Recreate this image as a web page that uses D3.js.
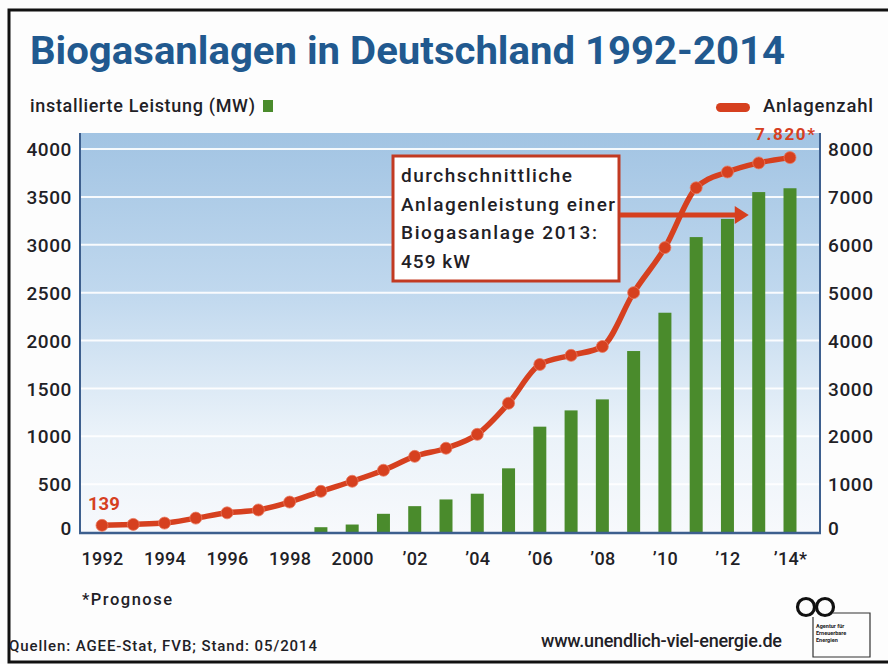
<!DOCTYPE html>
<html>
<head>
<meta charset="utf-8">
<script src="https://cdn.jsdelivr.net/npm/d3@7"></script>
<style>
  html, body { margin: 0; padding: 0; background: #fdfdfd; }
  svg { display: block; font-family: Roboto, "Noto Sans", sans-serif; }
</style>
</head>
<body>
<div id="chart"></div>
<script>
// ── Data ─────────────────────────────────────────────────────────────────────
const years      = [1992, 1993, 1994, 1995, 1996, 1997, 1998, 1999, 2000, 2001, 2002,
                    2003, 2004, 2005, 2006, 2007, 2008, 2009, 2010, 2011, 2012, 2013, 2014];
// installierte Leistung (MW), bars on left axis
const capacityMW = [null, null, null, null, null, null, null, 50, 78, 190, 270,
                    340, 400, 665, 1100, 1270, 1385, 1890, 2290, 3080, 3270, 3550, 3590];
// Anlagenzahl, line on right axis
const plantCount = [139, 159, 186, 290, 400, 460, 625, 850, 1060, 1290, 1580,
                    1750, 2040, 2690, 3500, 3690, 3875, 5000, 5940, 7190, 7520, 7710, 7820];

const xTickYears  = [1992, 1994, 1996, 1998, 2000, 2002, 2004, 2006, 2008, 2010, 2012, 2014];
const xTickLabels = ['1992', '1994', '1996', '1998', '2000', '’02', '’04', '’06', '’08', '’10', '’12', '’14*'];
const leftTicks   = [0, 500, 1000, 1500, 2000, 2500, 3000, 3500, 4000];
const rightTicks  = [0, 1000, 2000, 3000, 4000, 5000, 6000, 7000, 8000];

const noteLines  = ['durchschnittliche', 'Anlagenleistung einer', 'Biogasanlage 2013:', '459 kW'];
const noteWidths = [171, 214, 196, 69];

// ── Layout ───────────────────────────────────────────────────────────────────
const W = 888, H = 664;
const P = { left: 80, right: 820, top: 133, bottom: 532 };

const BLUE  = '#21598f';
const RED   = '#d6401f';
const GREEN = '#4a8b2c';
const AXIS  = '#3d5f8e';
const INK   = '#1f2126';

const svg = d3.select('#chart').append('svg').attr('width', W).attr('height', H);

const x  = d3.scalePoint().domain(years).range([102, 790]);
const yL = d3.scaleLinear().domain([0, 4000]).range([P.bottom, 149]);
const yR = d3.scaleLinear().domain([0, 8000]).range([P.bottom, 149]);

// stretch a text to a measured width by letter spacing only
const fit = (sel, w) => sel.attr('textLength', w).attr('lengthAdjust', 'spacing');

// ── Frame ────────────────────────────────────────────────────────────────────
svg.append('path')
  .attr('d', `M${W + 5},10 H9 V662 H${W + 5}`)
  .attr('fill', 'none').attr('stroke', '#111').attr('stroke-width', 3);

// ── Title & legend ───────────────────────────────────────────────────────────
svg.append('text')
  .attr('x', 30).attr('y', 64)
  .attr('fill', BLUE).attr('font-size', 38).attr('font-weight', 700)
  .attr('textLength', 755).attr('lengthAdjust', 'spacingAndGlyphs')
  .text('Biogasanlagen in Deutschland 1992-2014');

svg.append('text')
  .attr('x', 30).attr('y', 112)
  .attr('fill', INK).attr('font-size', 18).attr('font-weight', 500)
  .call(fit, 225)
  .text('installierte Leistung (MW)');
svg.append('rect')
  .attr('x', 263).attr('y', 100).attr('width', 10).attr('height', 12)
  .attr('fill', GREEN);

svg.append('rect')
  .attr('x', 716).attr('y', 103).attr('width', 34).attr('height', 9).attr('rx', 4.5)
  .attr('fill', RED);
svg.append('text')
  .attr('x', 763).attr('y', 112)
  .attr('fill', INK).attr('font-size', 18.5).attr('font-weight', 500)
  .call(fit, 110)
  .text('Anlagenzahl');

// ── Plot background (gradient) ───────────────────────────────────────────────
const defs = svg.append('defs');
const grad = defs.append('linearGradient')
  .attr('id', 'bg').attr('x1', 0).attr('y1', 0).attr('x2', 0).attr('y2', 1);
grad.append('stop').attr('offset', '0%').attr('stop-color', '#a2c4e3');
grad.append('stop').attr('offset', '40%').attr('stop-color', '#c0d8ee');
grad.append('stop').attr('offset', '75%').attr('stop-color', '#eaf2f9');
grad.append('stop').attr('offset', '100%').attr('stop-color', '#f7f9fc');

svg.append('rect')
  .attr('x', P.left).attr('y', P.top)
  .attr('width', P.right - P.left).attr('height', P.bottom - P.top)
  .attr('fill', 'url(#bg)');

// Gridlines
svg.append('g').selectAll('line')
  .data(leftTicks.filter(d => d > 0))
  .join('line')
  .attr('x1', P.left).attr('x2', P.right)
  .attr('y1', d => yL(d)).attr('y2', d => yL(d))
  .attr('stroke', '#ffffff').attr('stroke-opacity', 0.9).attr('stroke-width', 2);

// ── Bars ─────────────────────────────────────────────────────────────────────
const barW = 13;
const barData = years.map((yr, i) => ({ yr, v: capacityMW[i] })).filter(d => d.v != null);
svg.append('g').selectAll('rect')
  .data(barData)
  .join('rect')
  .attr('x', d => x(d.yr) - barW / 2)
  .attr('y', d => yL(d.v))
  .attr('width', barW)
  .attr('height', d => yL(0) - yL(d.v))
  .attr('fill', GREEN);

// ── Axes lines ───────────────────────────────────────────────────────────────
svg.append('line')
  .attr('x1', P.left).attr('x2', P.left).attr('y1', P.top).attr('y2', P.bottom + 1)
  .attr('stroke', AXIS).attr('stroke-width', 2);
svg.append('line')
  .attr('x1', P.right).attr('x2', P.right).attr('y1', P.top).attr('y2', P.bottom + 1)
  .attr('stroke', AXIS).attr('stroke-width', 2);
svg.append('line')
  .attr('x1', P.left - 1).attr('x2', P.right + 1).attr('y1', P.bottom + 1).attr('y2', P.bottom + 1)
  .attr('stroke', AXIS).attr('stroke-width', 2.5);

// ── Tick labels via d3 axes ──────────────────────────────────────────────────
const styleAxis = a => {
  a.select('.domain').remove();
  a.selectAll('line').remove();
  a.selectAll('text')
    .attr('fill', INK).attr('font-size', 19).attr('font-weight', 500)
    .attr('letter-spacing', 0.6)
    .attr('font-family', 'Roboto, "Noto Sans", sans-serif');
};

svg.append('g').attr('transform', `translate(${P.left - 8},0)`)
  .call(d3.axisLeft(yL).tickValues(leftTicks).tickSize(0).tickPadding(0).tickFormat(d3.format('d')))
  .call(styleAxis)
  .call(a => a.selectAll('text').attr('dy', '0.35em').attr('y', d => d === 0 ? -4 : 0));

svg.append('g').attr('transform', `translate(${P.right + 8},0)`)
  .call(d3.axisRight(yR).tickValues(rightTicks).tickSize(0).tickPadding(0).tickFormat(d3.format('d')))
  .call(styleAxis)
  .call(a => a.selectAll('text').attr('dy', '0.35em').attr('y', d => d === 0 ? -4 : 0));

svg.append('g').attr('transform', `translate(0,${P.bottom + 19})`)
  .call(d3.axisBottom(x).tickValues(xTickYears).tickSize(0).tickPadding(0)
    .tickFormat(d => xTickLabels[xTickYears.indexOf(d)]))
  .call(styleAxis)
  .call(a => a.selectAll('text').attr('dy', '0.78em').attr('font-size', 18).attr('letter-spacing', 0.3));

// ── Line: Anlagenzahl ────────────────────────────────────────────────────────
const lineData = years.map((yr, i) => ({ yr, v: plantCount[i] }));
svg.append('path')
  .datum(lineData)
  .attr('d', d3.line().x(d => x(d.yr)).y(d => yR(d.v)).curve(d3.curveMonotoneX))
  .attr('fill', 'none').attr('stroke', RED).attr('stroke-width', 5.5)
  .attr('stroke-linecap', 'round');
svg.append('g').selectAll('circle')
  .data(lineData)
  .join('circle')
  .attr('cx', d => x(d.yr)).attr('cy', d => yR(d.v)).attr('r', 6)
  .attr('fill', RED).attr('stroke', '#e8785e').attr('stroke-width', 0.8);

// Endpoint labels
svg.append('text')
  .attr('x', 88).attr('y', yR(plantCount[0]) - 15)
  .attr('fill', RED).attr('font-size', 18.5).attr('font-weight', 700)
  .text('139');
svg.append('text')
  .attr('x', 755).attr('y', 140)
  .attr('fill', RED).attr('font-size', 17).attr('font-weight', 700)
  .call(fit, 60)
  .text('7.820*');

// ── Annotation box with arrow ───────────────────────────────────────────────
const box = { x: 393, y: 156, w: 226, h: 125 };
svg.append('rect')
  .attr('x', box.x).attr('y', box.y).attr('width', box.w).attr('height', box.h)
  .attr('fill', '#ffffff').attr('stroke', '#c23a22').attr('stroke-width', 3);
svg.append('g').selectAll('text')
  .data(noteLines)
  .join('text')
  .attr('x', box.x + 8)
  .attr('y', (d, i) => box.y + 26 + i * 28.7)
  .attr('fill', INK).attr('font-size', 19).attr('font-weight', 500)
  .attr('textLength', (d, i) => noteWidths[i]).attr('lengthAdjust', 'spacing')
  .text(d => d);

const arrowY = 215;
const tipX   = x(2013) - 10;
svg.append('line')
  .attr('x1', box.x + box.w + 1).attr('x2', tipX - 10)
  .attr('y1', arrowY).attr('y2', arrowY)
  .attr('stroke', RED).attr('stroke-width', 5);
svg.append('path')
  .attr('d', `M${tipX},${arrowY} L${tipX - 14},${arrowY - 9} L${tipX - 14},${arrowY + 9} Z`)
  .attr('fill', RED);

// ── Footer ───────────────────────────────────────────────────────────────────
svg.append('text')
  .attr('x', 82).attr('y', 605)
  .attr('fill', INK).attr('font-size', 16.5).attr('font-weight', 500)
  .call(fit, 90)
  .text('*Prognose');
svg.append('text')
  .attr('x', 9).attr('y', 651)
  .attr('fill', INK).attr('font-size', 15).attr('font-weight', 500)
  .call(fit, 308)
  .text('Quellen: AGEE-Stat, FVB; Stand: 05/2014');
svg.append('text')
  .attr('x', 541).attr('y', 647)
  .attr('fill', INK).attr('font-size', 18).attr('font-weight', 500)
  .call(fit, 241)
  .text('www.unendlich-viel-energie.de');

// Logo: infinity sign + small label box
const logo = svg.append('g').attr('fill', 'none').attr('stroke', '#111').attr('stroke-width', 3.2);
logo.append('circle').attr('cx', 806).attr('cy', 607).attr('r', 8.5);
logo.append('circle').attr('cx', 825).attr('cy', 607).attr('r', 8.5);
svg.append('path')
  .attr('d', 'M833,613 H870 V657 H813 V617')
  .attr('fill', 'none').attr('stroke', '#333').attr('stroke-width', 1.2);
svg.append('g').selectAll('text')
  .data(['Agentur für', 'Erneuerbare', 'Energien'])
  .join('text')
  .attr('x', 816).attr('y', (d, i) => 628 + i * 7)
  .attr('fill', '#222').attr('font-size', 5.5).attr('font-weight', 700)
  .text(d => d);
</script>
</body>
</html>
